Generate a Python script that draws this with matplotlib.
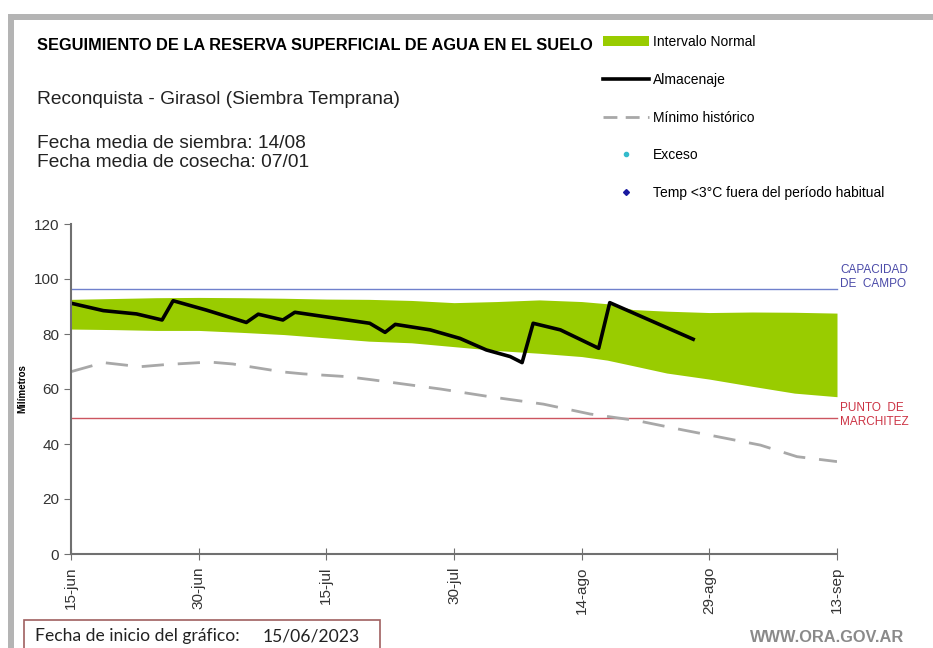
"""Seguimiento de la reserva superficial de agua en el suelo - Reconquista."""

import matplotlib

matplotlib.use("Agg")
import matplotlib.pyplot as plt
from matplotlib.lines import Line2D
from matplotlib.patches import Patch, Rectangle

plt.rcParams["font.family"] = ["Liberation Sans", "DejaVu Sans"]

# days counted from 15-jun-2023
TICK_DAYS = [0, 15, 30, 45, 60, 75, 90]
TICK_LABELS = ["15-jun", "30-jun", "15-jul", "30-jul", "14-ago", "29-ago", "13-sep"]

BAND_DAYS = [0, 5, 10, 15, 20, 25, 30, 35, 40, 45, 50, 55, 60, 63, 66, 70, 75, 80, 85, 90]
BAND_UPPER = [92.6, 92.9, 93.2, 93.3, 93.2, 93.0, 92.7, 92.6, 92.2, 91.4,
              91.8, 92.4, 91.8, 91.0, 88.9, 88.3, 87.8, 88.0, 87.9, 87.6]
BAND_LOWER = [81.8, 81.6, 81.3, 81.3, 80.6, 79.8, 78.6, 77.4, 76.8, 75.4,
              74.0, 73.0, 71.8, 70.5, 68.5, 65.8, 63.6, 61.0, 58.5, 57.2]

STORE_DAYS = [0, 3.8, 7.7, 10.7, 12.0, 15.9, 20.6, 22.0, 24.9, 26.3, 35.1, 36.9,
              38.1, 42.2, 45.7, 48.8, 51.6, 53.0, 54.3, 57.5, 61.2, 62.0, 63.3, 73.1]
STORE_VALUES = [91.2, 88.5, 87.3, 85.1, 92.1, 88.7, 84.2, 87.2, 85.1, 87.9, 83.9, 80.6,
                83.5, 81.5, 78.4, 74.2, 71.8, 69.6, 83.9, 81.5, 76.0, 74.8, 91.4, 78.1]

MIN_DAYS = [0, 3.8, 8.1, 11.2, 16.3, 19.0, 24.9, 27.3, 32.4, 35.5, 43.4, 49.2,
            55.5, 61.0, 66.5, 71.9, 75.9, 81.0, 85.3, 90]
MIN_VALUES = [66.3, 69.6, 68.1, 68.9, 69.8, 69.1, 66.2, 65.5, 64.5, 63.3, 60.0, 57.2,
              54.5, 50.9, 48.5, 45.1, 42.7, 39.6, 35.4, 33.6]

FIELD_CAPACITY = 96.4
WILTING_POINT = 49.6

GREEN = "#99cc00"
W, H = 933, 648


def px(x, y):
    """pixel position (from top-left) -> figure fraction"""
    return x / W, 1 - y / H


def main() -> None:
    fig = plt.figure(figsize=(W / 100, H / 100), dpi=100)
    fig.patch.set_facecolor("white")

    left, top = px(71, 224)
    right, bottom = px(837, 554)
    ax = fig.add_axes([left, bottom, right - left, top - bottom])

    ax.fill_between(BAND_DAYS, BAND_LOWER, BAND_UPPER, color=GREEN, lw=0)
    ax.axhline(FIELD_CAPACITY, color="#7080cc", lw=1, clip_on=False)
    ax.axhline(WILTING_POINT, color="#cc5560", lw=1, clip_on=False)
    ax.plot(MIN_DAYS, MIN_VALUES, color="#a8a8a8", lw=2, dashes=(8, 5))
    ax.plot(STORE_DAYS, STORE_VALUES, color="black", lw=2.6, solid_joinstyle="round")

    ax.set_xlim(0, 90)
    ax.set_ylim(0, 120)
    ax.set_xticks(TICK_DAYS)
    ax.set_xticklabels(TICK_LABELS, rotation=90, fontsize=11, color="#333333")
    ax.set_yticks(range(0, 121, 20))
    ax.tick_params(axis="y", direction="out", length=5, color="#707070",
                   labelsize=11, labelcolor="#333333")
    ax.tick_params(axis="x", direction="inout", length=8, color="#707070", pad=5)
    for side in ("top", "right"):
        ax.spines[side].set_visible(False)
    for side in ("left", "bottom"):
        ax.spines[side].set_color("#707070")
        ax.spines[side].set_linewidth(1.5)
    ax.set_ylabel("Milímetros", fontsize=7, fontweight="bold")
    ax.yaxis.set_label_coords(-0.057, 0.5)

    # line labels on the right
    fig.text(*px(840, 277), "CAPACIDAD\nDE  CAMPO", color="#4a4aa8", fontsize=8.5,
             va="center", ha="left", linespacing=1.15)
    fig.text(*px(840, 415), "PUNTO  DE\nMARCHITEZ", color="#cc3344", fontsize=8.5,
             va="center", ha="left", linespacing=1.15)

    # header texts
    fig.text(*px(37, 46), "SEGUIMIENTO DE LA RESERVA SUPERFICIAL DE AGUA EN EL SUELO",
             fontsize=11.8, fontweight="bold", va="center")
    fig.text(*px(37, 99), "Reconquista - Girasol (Siembra Temprana)", fontsize=13.8,
             va="center", color="#222222")
    fig.text(*px(37, 153), "Fecha media de siembra: 14/08\nFecha media de cosecha: 07/01",
             fontsize=13.8, va="center", color="#222222", linespacing=1.12)

    handles = [
        Patch(facecolor=GREEN, edgecolor="none"),
        Line2D([], [], color="black", lw=2.6),
        Line2D([], [], color="#a8a8a8", lw=2, dashes=(5, 3)),
        Line2D([], [], ls="none", marker="o", markersize=3, color="#33bbcc"),
        Line2D([], [], ls="none", marker="D", markersize=3, color="#1a1aa0"),
    ]
    labels = ["Intervalo Normal", "Almacenaje", "Mínimo histórico", "Exceso",
              "Temp <3°C fuera del período habitual"]
    fig.legend(handles, labels, loc="upper left", bbox_to_anchor=px(603, 35),
               frameon=False, fontsize=10, handlelength=3.3, handleheight=0.7,
               labelspacing=1.71, handletextpad=0.3, borderaxespad=0, borderpad=0)

    # frame of the original graphic
    fig.add_artist(Rectangle(px(8, 20), (W - 8) / W, 6 / H, transform=fig.transFigure,
                             facecolor="#b4b4b4", edgecolor="none"))
    fig.add_artist(Rectangle(px(8, H), 6 / W, (H - 14) / H, transform=fig.transFigure,
                             facecolor="#b4b4b4", edgecolor="none"))

    # start date box and source
    fig.add_artist(Rectangle(px(24, 652), 356 / W, 32 / H, transform=fig.transFigure,
                             facecolor="white", edgecolor="#a06060", lw=1.2))
    fig.text(*px(35, 636), "Fecha de inicio del gráfico:", fontsize=12.6,
             family=["Lato", "DejaVu Sans"], va="center", color="#222222")
    fig.text(*px(263, 636), "15/06/2023", fontsize=12.6,
             family=["Lato", "DejaVu Sans"], va="center", color="#222222")
    fig.text(*px(827, 637), "WWW.ORA.GOV.AR", fontsize=11.8, fontweight="bold",
             color="#8a8a8a", ha="center", va="center")

    fig.savefig("out.png", dpi=100)
    plt.close(fig)


if __name__ == "__main__":
    main()
